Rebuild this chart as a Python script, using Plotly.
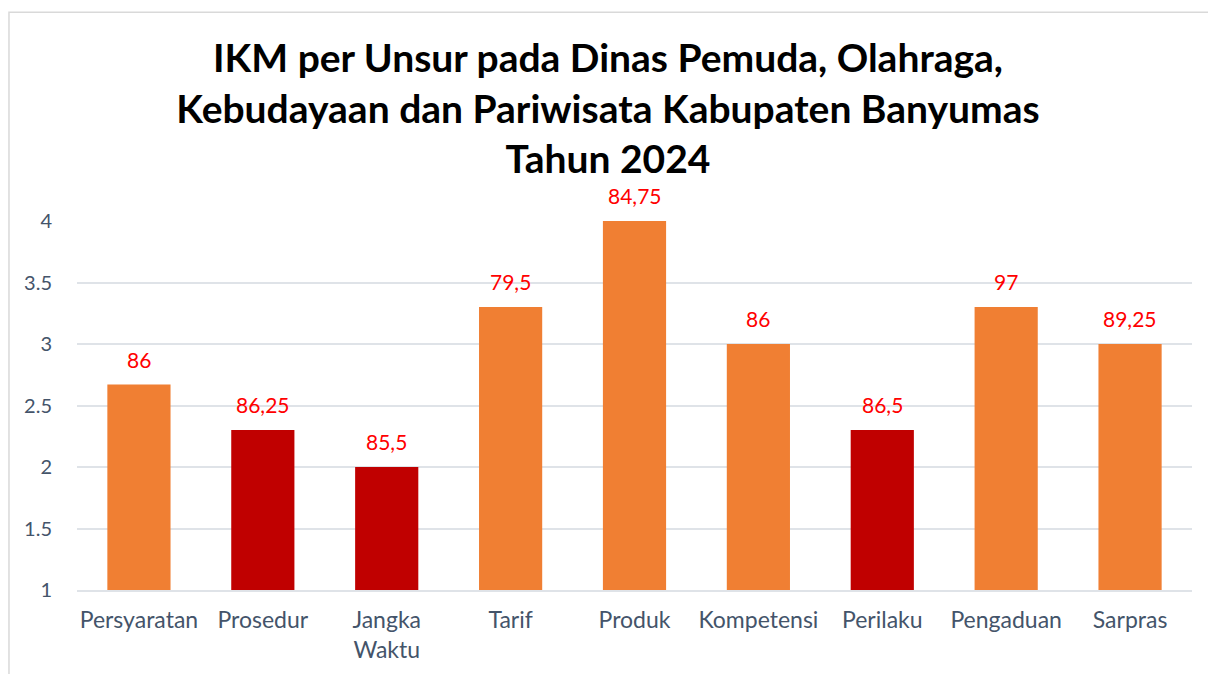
import plotly.graph_objects as go

categories = ["Persyaratan", "Prosedur", "Jangka<br>Waktu", "Tarif", "Produk",
              "Kompetensi", "Perilaku", "Pengaduan", "Sarpras"]
bar_heights = [2.67, 2.3, 2.0, 3.3, 4.0, 3.0, 2.3, 3.3, 3.0]
value_labels = ["86", "86,25", "85,5", "79,5", "84,75", "86", "86,5", "97", "89,25"]
is_low = [False, True, True, False, False, False, True, False, False]
y_ticks = [1, 1.5, 2, 2.5, 3, 3.5, 4]

ORANGE = "#F07F33"
DARK_RED = "#C00000"
colors = [DARK_RED if low else ORANGE for low in is_low]

fig = go.Figure()
fig.add_trace(go.Bar(
    x=categories, y=[h - 1 for h in bar_heights], base=1,
    marker=dict(color=colors, line=dict(width=0)),
    showlegend=False, hoverinfo="skip",
))

for c, h, lab in zip(categories, bar_heights, value_labels):
    fig.add_annotation(x=c, y=h, text=lab, showarrow=False, yanchor="bottom",
                       yshift=11, font=dict(family="Lato", size=21, color="#FF0000"))

fig.add_shape(type="rect", xref="paper", yref="paper", x0=-0.061, x1=1.2, y0=-0.6, y1=1.566,
              line=dict(color="#D9D9D9", width=1.5), fillcolor="rgba(0,0,0,0)", layer="below")

fig.update_layout(
    width=1216, height=674,
    margin=dict(l=69, r=32, t=213, b=92),
    paper_bgcolor="white", plot_bgcolor="white",
    bargap=0.49,
    title=dict(
        text="IKM per Unsur pada Dinas Pemuda, Olahraga,<br>Kebudayaan dan Pariwisata Kabupaten Banyumas<br>Tahun 2024",
        x=0.5 - 8 / 1216, xanchor="center", xref="container",
        y=1 - 64 / 674, yanchor="middle", yref="container",
        font=dict(family="Lato", size=39, color="#000000", weight="bold"),
    ),
    font=dict(family="Lato", color="#44546A"),
)
fig.update_xaxes(showgrid=False, showline=True, linecolor="#DFE3E8", linewidth=2,
                 tickfont=dict(size=23, color="#44546A"), ticks="", ticklabelstandoff=8)
fig.update_yaxes(range=[1, 4], tickvals=y_ticks, ticktext=[str(v) for v in y_ticks],
                 showgrid=True, gridcolor="#DFE3E8", gridwidth=2, zeroline=False,
                 tickfont=dict(size=20, color="#44546A"), ticks="", ticklabelstandoff=24)

fig.write_html("out.html")
